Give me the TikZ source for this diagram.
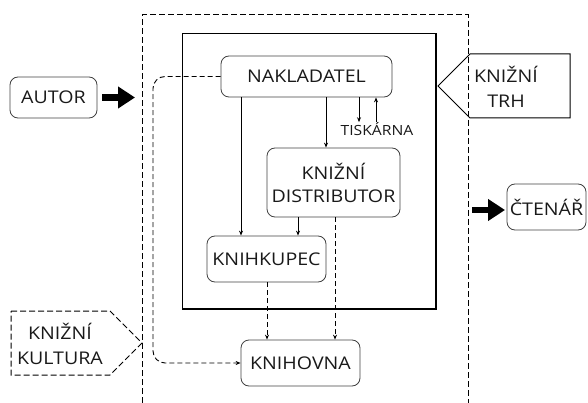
\documentclass[tikz,border=0pt]{standalone}
\usepackage{fontspec}
\setmainfont{Open Sans}[FakeStretch=1.12]
\usetikzlibrary{arrows.meta}
\begin{document}
\begin{tikzpicture}[x=1pt,y=-1pt,
  box/.style={draw=black!75,line width=0.8pt,rounded corners=8pt,inner sep=0pt,align=center,
    font=\fontsize{17.5}{23}\selectfont,text=black!90},
  arr/.style={-{Stealth[length=5pt,width=4pt]},line width=0.9pt},
  darr/.style={arr,dash pattern=on 5pt off 3pt},
  fat/.style={-{Triangle[length=17pt,width=21pt]},line width=6.5pt},
  lbl/.style={font=\fontsize{17.5}{25}\selectfont,align=center,text=black!90,inner sep=0pt}]
\useasboundingbox (0,0) rectangle (588,403);
% frames
\draw[line width=1pt,dash pattern=on 6pt off 3pt] (142,403) -- (142,15) -- (468,15) -- (468,403);
\draw[line width=1.2pt] (182.5,33.5) rectangle (436,309);
% nodes
\node[box,minimum width=87pt,minimum height=41pt] (autor) at (53.5,97.5) {AUTOR};
\node[box,minimum width=171pt,minimum height=41pt] (nakl) at (306.5,76.5) {NAKLADATEL};
\node[box,minimum width=133pt,minimum height=69pt] (dist) at (333.5,182.5) {KNIŽNÍ\\DISTRIBUTOR};
\node[box,minimum width=119pt,minimum height=46pt] (kupec) at (266.5,259) {KNIHKUPEC};
\node[box,minimum width=119pt,minimum height=46pt] (knih) at (300.5,363) {KNIHOVNA};
\node[box,minimum width=79pt,minimum height=46pt] (ctenar) at (546.5,207) {ČTENÁŘ};
\node[font=\fontsize{14}{17}\selectfont,text=black!90,inner sep=0pt] (tisk) at (377,129) {TISKÁRNA};
% KNIŽNÍ TRH
\draw[line width=1pt] (438,86) -- (470,54) -- (570,54) -- (570,118) -- (470,118) -- cycle;
\node[lbl] (trh) at (506,87) {KNIŽNÍ\\TRH};
% KNIŽNÍ KULTURA
\draw[line width=1pt,dash pattern=on 6pt off 3pt] (11,311) -- (110,311) -- (142,343) -- (110,375) -- (11,375) -- cycle;
\node[lbl] (kult) at (60,344) {KNIŽNÍ\\KULTURA};
% fat arrows
\coordinate (a1) at (102,97.5);
\coordinate (a2) at (135,97.5);
\draw[fat] (a1) -- (a2);
\coordinate (c1) at (472,210);
\coordinate (c2) at (505,210);
\draw[fat] (c1) -- (c2);
% connectors
\draw[arr] (nakl.south -| 326,0) -- (dist.north -| 326,0);
\draw[arr] (nakl.south -| 241,0) -- (kupec.north -| 241,0);
\draw[arr] (nakl.south -| 359,0) -- (tisk.north -| 359,0);
\draw[arr] (tisk.north -| 376,0) -- (nakl.south -| 376,0);
\draw[arr] (dist.south -| 298,0) -- (kupec.north -| 298,0);
\draw[darr] (dist.south -| 335,0) -- (knih.north -| 335,0);
\draw[darr] (kupec.south -| 267,0) -- (knih.north -| 267,0);
\draw[darr,rounded corners=12pt] (nakl.west) -- (153,76.5) -- (153,363) -- (knih.west);
\end{tikzpicture}
\end{document}
